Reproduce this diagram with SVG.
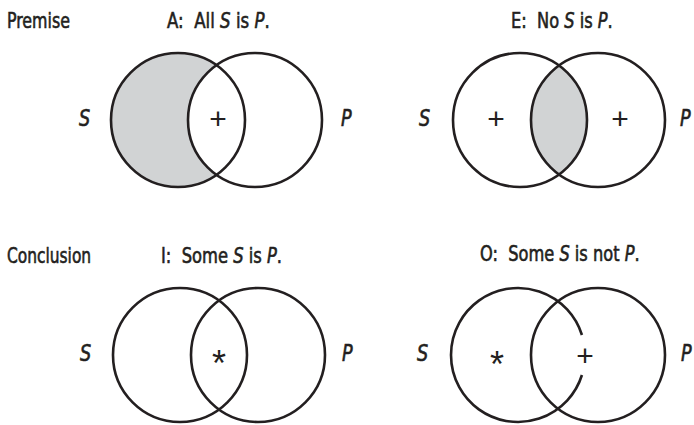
<svg xmlns="http://www.w3.org/2000/svg" width="694" height="425" viewBox="0 0 694 425">
<style>
text{font-family:"DejaVu Sans Condensed","Liberation Sans",sans-serif;fill:#231f20}
.t{font-size:22px;stroke:#231f20;stroke-width:0.6}
.i{font-style:italic}
.v{font-size:23px;font-style:italic;stroke:#231f20;stroke-width:0.6}
.c{fill:none;stroke:#231f20;stroke-width:2.6}
.sh{fill:#d1d3d4;stroke:none}
.m{font-family:"Liberation Sans",sans-serif;font-size:30px;text-anchor:middle}
.a{font-family:"Liberation Sans",sans-serif;font-size:36px;text-anchor:middle}
</style>
<rect width="694" height="425" fill="#fff"/>
<text class="t" transform="translate(7,28) scale(0.8,1)">Premise</text>
<text class="t" transform="translate(7,263) scale(0.78,1)">Conclusion</text>
<g id="diagramA">
<path class="sh" d="M216.5 65.17A67 67 0 1 0 216.5 174.83A67 67 0 0 1 216.5 65.17Z"/>
<circle class="c" cx="178" cy="120" r="67"/>
<circle class="c" cx="255" cy="120" r="67"/>
<text class="t" transform="translate(167,28) scale(0.84,1)">A:&#160; All <tspan class="i">S</tspan> is <tspan class="i">P</tspan>.</text>
<text class="v" transform="translate(79,126) scale(0.85,1)">S</text>
<text class="v" transform="translate(341,126) scale(0.85,1)">P</text>
<text class="m" x="218" y="129">+</text>
</g>
<g id="diagramE">
<path class="sh" d="M559 65.52A67 67 0 0 1 559 174.48A67 67 0 0 1 559 65.52Z"/>
<circle class="c" cx="520" cy="120" r="67"/>
<circle class="c" cx="598" cy="120" r="67"/>
<text class="t" transform="translate(511,28) scale(0.82,1)">E:&#160; No <tspan class="i">S</tspan> is <tspan class="i">P</tspan>.</text>
<text class="v" transform="translate(419,126) scale(0.85,1)">S</text>
<text class="v" transform="translate(680,126) scale(0.85,1)">P</text>
<text class="m" x="496" y="129">+</text>
<text class="m" x="620" y="129">+</text>
</g>
<g id="diagramI">
<circle class="c" cx="180" cy="355" r="67"/>
<circle class="c" cx="258" cy="355" r="67"/>
<text class="t" transform="translate(161,263) scale(0.825,1)">I:&#160; Some <tspan class="i">S</tspan> is <tspan class="i">P</tspan>.</text>
<text class="v" transform="translate(80,361) scale(0.85,1)">S</text>
<text class="v" transform="translate(342,361) scale(0.85,1)">P</text>
<text class="a" x="219" y="376">*</text>
</g>
<g id="diagramO">
<path class="c" d="M581.95 335A67 67 0 1 0 581.95 375"/>
<circle class="c" cx="598" cy="355" r="67"/>
<text class="t" transform="translate(480,261) scale(0.82,1)">O:&#160; Some <tspan class="i">S</tspan> is not <tspan class="i">P</tspan>.</text>
<text class="v" transform="translate(417,361) scale(0.85,1)">S</text>
<text class="v" transform="translate(681,361) scale(0.85,1)">P</text>
<text class="a" x="497" y="377">*</text>
<text class="m" x="585" y="366">+</text>
</g>
</svg>
